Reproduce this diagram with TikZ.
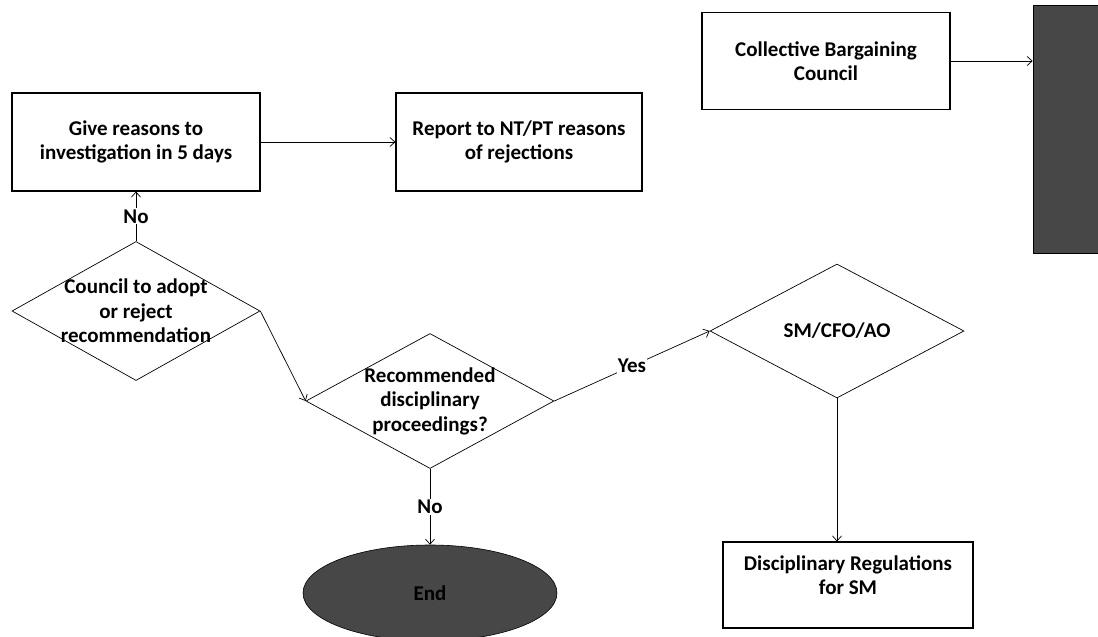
\documentclass[tikz,border=0pt]{standalone}
\usepackage{fontspec}
\setmainfont{Carlito}
\usetikzlibrary{shapes.geometric,arrows.meta}
\begin{document}
\begin{tikzpicture}[x=1pt,y=-1pt,
  lbl/.style={font=\bfseries\fontsize{21}{24.5}\selectfont, align=center},
  box/.style={draw, line width=1.1pt, inner sep=0pt, minimum width=248pt, minimum height=98pt, lbl},
  choice/.style={draw, diamond, line width=0.7pt, inner sep=0pt},
  dark/.style={draw=black, fill=black!72, line width=0.6pt},
  flow/.style={line width=0.7pt, -{Straight Barb[length=5pt,width=9pt]}},
  tag/.style={lbl, fill=white, inner sep=1pt}]
\useasboundingbox (0,0) rectangle (1098,637);

% process boxes
\node[box] (give) at (136,142) {Give reasons to\\investigation in 5 days};
\node[box, minimum width=246pt] (report) at (519,142) {Report to NT/PT reasons\\of rejections};
\node[box, minimum height=97pt] (cbc) at (826,61) {Collective Bargaining\\Council};
\node[box, minimum width=250pt, minimum height=86pt,
      label={[lbl, yshift=10pt]center:Disciplinary Regulations\\for SM}] (regs) at (848,585) {};

% decisions
\node[choice, minimum width=248pt, minimum height=139pt,
      label={[lbl]center:Council to adopt\\or reject\\recommendation}] (adopt) at (136,311) {};
\node[choice, minimum width=248pt, minimum height=135pt,
      label={[lbl]center:Recommended\\disciplinary\\proceedings?}] (proc) at (430,401) {};
\node[choice, minimum width=254pt, minimum height=134pt,
      label={[lbl]center:SM/CFO/AO}] (sm) at (837,331) {};

% terminal and side block
\node[dark, ellipse, minimum width=254pt, minimum height=96pt, lbl] (end) at (430,593) {End};
\node[dark, rectangle, minimum width=72pt, minimum height=248pt] (side) at (1069,129) {};

% connectors
\draw[flow] (give.east) -- (report.west);
\draw[flow] (cbc.east) -- (side.west |- cbc.east);
\draw[flow] (adopt.north) -- node[tag] {No} (give.south);
\draw[flow] (adopt.east) -- (proc.west);
\draw[flow] (proc.east) -- node[tag] {Yes} (sm.west);
\draw[flow] (proc.south) -- node[tag] {No} (end.north);
\draw[flow] (sm.south) -- (sm.south |- regs.north);
\end{tikzpicture}
\end{document}
